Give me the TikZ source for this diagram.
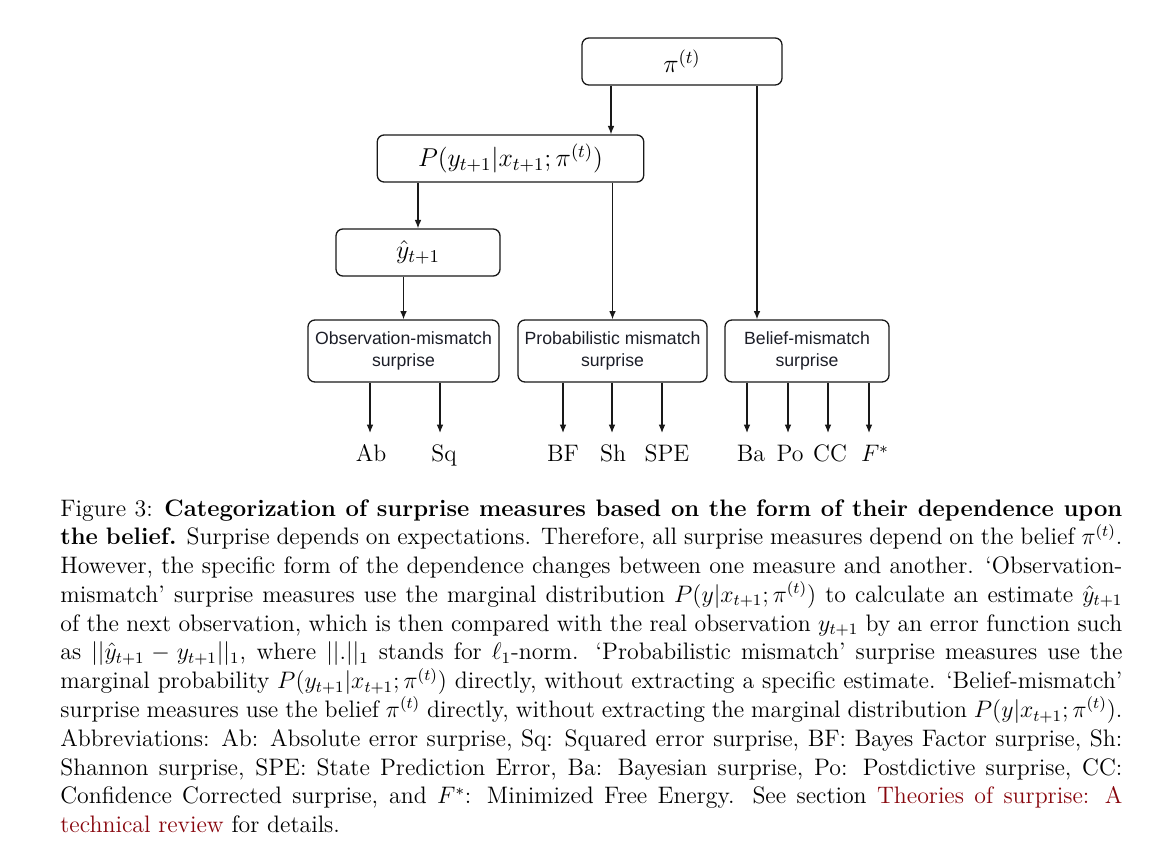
\RequirePackage{fix-cm}
\documentclass[tikz,border=0pt]{standalone}
\usepackage{fontspec}
\newfontfamily\boxsans{Liberation Sans}
\usetikzlibrary{arrows.meta,calc}
\definecolor{linkred}{RGB}{135,5,12}
\definecolor{boxtext}{RGB}{28,30,40}
\definecolor{linec}{RGB}{25,25,25}
\tikzset{
  stagebox/.style={draw=linec, line width=0.65pt, rounded corners=3.5pt, inner sep=0pt, align=center},
  mathbox/.style={stagebox, minimum height=23.7pt, font=\fontsize{13}{15}\selectfont},
  catbox/.style={stagebox, minimum height=31.2pt, font=\boxsans\fontsize{8.9}{10.7}\selectfont, text=boxtext},
  arr/.style={draw=linec, line width=0.65pt, -{Latex[length=4.2pt,width=3.4pt]}},
  measlabel/.style={anchor=base, inner sep=0pt, font=\fontsize{12}{14.5}\selectfont},
}
\begin{document}
\begin{tikzpicture}[x=0.5035pt,y=-0.5035pt]
\path[use as bounding box] (0,0) rectangle (1171,857);

% upper boxes
\node[mathbox, minimum width=100.7pt] (pi) at (682,61.5) {$\pi^{(t)}$};
\node[mathbox, minimum width=134.2pt] (P) at (510.5,158.5) {$P(y_{t+1}|x_{t+1};\pi^{(t)})$};
\node[mathbox, minimum width=82.6pt] (yhat) at (418,252.5) {$\hat{y}_{t+1}$};

% category boxes
\node[catbox, minimum width=96.2pt] (obs) at (403.5,351) {Observation-mismatch\\surprise};
\node[catbox, minimum width=95.2pt] (prob) at (612.5,351) {Probabilistic mismatch\\surprise};
\node[catbox, minimum width=82.6pt] (bel) at (807,351) {Belief-mismatch\\surprise};

% helper x positions
\coordinate (xa) at (611,0);
\coordinate (xb) at (757,0);

\draw[arr] (pi.south -| xa) -- (P.north -| xa);
\draw[arr] (pi.south -| xb) -- (bel.north -| xb);
\draw[arr] (P.south -| yhat.north) -- (yhat.north);
\draw[arr] (P.south -| prob.north) -- (prob.north);
\draw[arr] (yhat.south -| obs.north) -- (obs.north);

% measure labels
\node[measlabel] (ab)  at (371,462) {Ab};
\node[measlabel] (sq)  at (444,462) {Sq};
\node[measlabel] (bf)  at (563,462) {BF};
\node[measlabel] (sh)  at (613,462) {Sh};
\node[measlabel] (spe) at (667,462) {SPE};
\node[measlabel] (ba)  at (751,462) {Ba};
\node[measlabel] (po)  at (790,462) {Po};
\node[measlabel] (cc)  at (830,462) {CC};
\node[measlabel] (fs)  at (875,462) {$F^{*}$};

% arrow end points above labels
\coordinate (ab-in)  at (370,433);
\coordinate (sq-in)  at (440,433);
\coordinate (bf-in)  at (563,433);
\coordinate (sh-in)  at (612,433);
\coordinate (spe-in) at (662,433);
\coordinate (ba-in)  at (747,433);
\coordinate (po-in)  at (788,433);
\coordinate (cc-in)  at (828,433);
\coordinate (fs-in)  at (869,433);

\draw[arr] (obs.south -| ab-in) -- (ab-in);
\draw[arr] (obs.south -| sq-in) -- (sq-in);
\draw[arr] (prob.south -| bf-in) -- (bf-in);
\draw[arr] (prob.south -| sh-in) -- (sh-in);
\draw[arr] (prob.south -| spe-in) -- (spe-in);
\draw[arr] (bel.south -| ba-in) -- (ba-in);
\draw[arr] (bel.south -| po-in) -- (po-in);
\draw[arr] (bel.south -| cc-in) -- (cc-in);
\draw[arr] (bel.south -| fs-in) -- (fs-in);

% caption
\node[anchor=base west, inner sep=0pt] (cap) at (60,516) {\parbox[t]{534.7pt}{\fontsize{12}{14.5}\selectfont
Figure~3: \textbf{Categorization of surprise measures based on the form of their dependence upon the belief.} Surprise depends on expectations. Therefore, all surprise measures depend on the belief $\pi^{(t)}$. However, the specific form of the dependence changes between one measure and another. `Observation-mismatch' surprise measures use the marginal distribution $P(y|x_{t+1};\pi^{(t)})$ to calculate an estimate $\hat{y}_{t+1}$ of the next observation, which is then compared with the real observation $y_{t+1}$ by an error function such as $||\hat{y}_{t+1}-y_{t+1}||_1$, where $||.||_1$ stands for $\ell_1$-norm. `Probabilistic mismatch' surprise measures use the marginal probability $P(y_{t+1}|x_{t+1};\pi^{(t)})$ directly, without extracting a specific estimate. `Belief-mismatch' surprise measures use the belief $\pi^{(t)}$ directly, without extracting the marginal distribution $P(y|x_{t+1};\pi^{(t)})$. Abbreviations: Ab: Absolute error surprise, Sq: Squared error surprise, BF: Bayes Factor surprise, Sh: Shannon surprise, SPE: State Prediction Error, Ba: Bayesian surprise, Po: Postdictive surprise, CC: Confidence Corrected surprise, and $F^{*}$: Minimized Free Energy. See section \textcolor{linkred}{Theories of surprise: A technical review} for details.}};
\end{tikzpicture}
\end{document}
